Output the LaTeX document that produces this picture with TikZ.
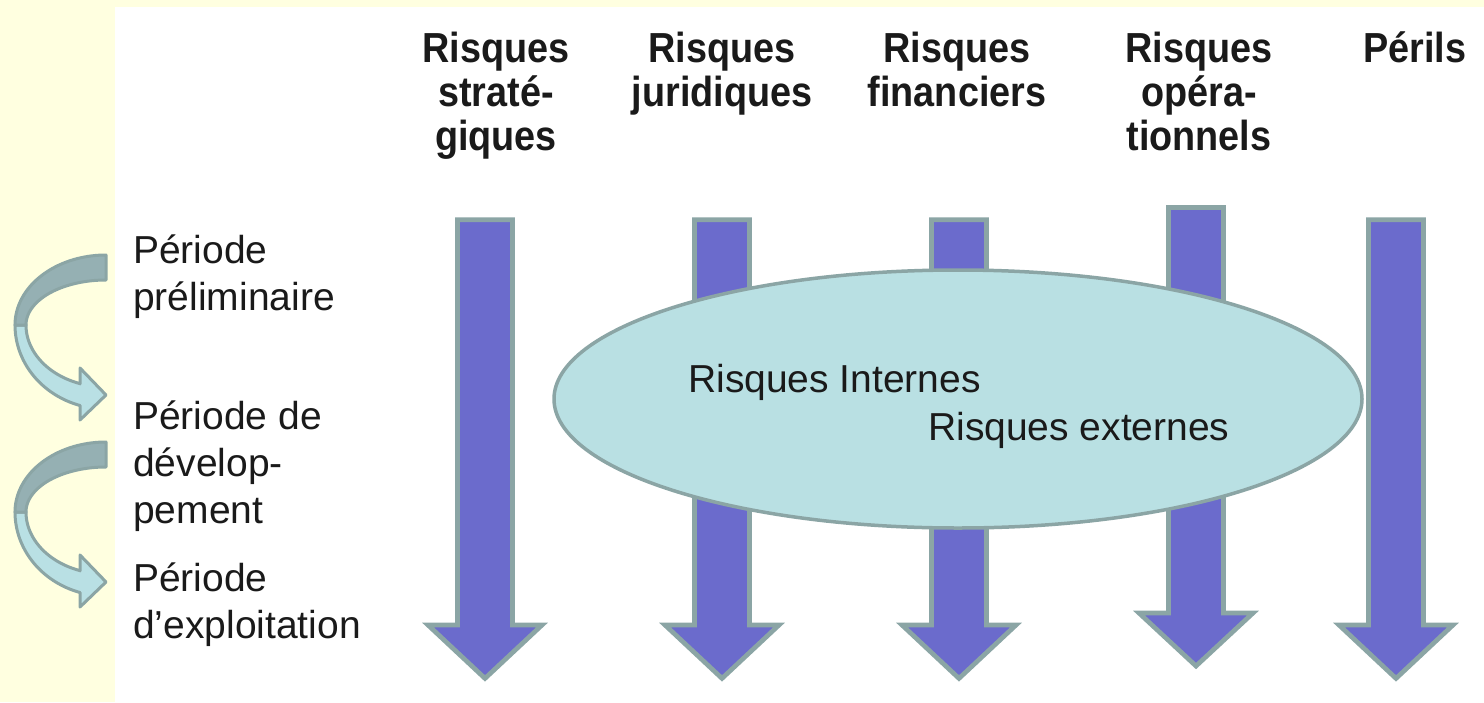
\documentclass[tikz,border=0pt]{standalone}
\usepackage{fontspec}
\setmainfont{Liberation Sans}
\newfontfamily\hdrfont{Liberation Sans}[FakeStretch=0.9]
\usetikzlibrary{shapes.geometric}
\definecolor{bgyellow}{RGB}{255,255,224}
\definecolor{arrowfill}{RGB}{107,107,204}
\definecolor{edgegrey}{RGB}{139,165,165}
\definecolor{ellfill}{RGB}{185,224,227}
\definecolor{darkband}{RGB}{149,176,179}
\definecolor{lightband}{RGB}{185,224,228}
\definecolor{txt}{RGB}{26,26,26}
\tikzset{
  downarrow/.style={fill=arrowfill, draw=edgegrey, line width=4.7pt, miter limit=10},
  frontband/.style={fill=lightband, draw=edgegrey, line width=3pt, line join=round},
  backband/.style={fill=darkband, draw=edgegrey, line width=3pt, line join=round},
  hdr/.style={anchor=base, align=center, inner sep=0pt, text=txt,
    font=\hdrfont\bfseries\fontsize{42}{44}\selectfont},
  lbl/.style={anchor=base west, align=left, inner sep=0pt, text=txt,
    font=\fontsize{39}{47}\selectfont},
}
% cx, top, wing y, tip y
\newcommand\downArrow[4]{%
  \draw[downarrow] (#1-27.5,#2) -- (#1+27.5,#2) -- (#1+27.5,#3) -- (#1+57,#3)
    -- (#1,#4) -- (#1-57,#3) -- (#1-27.5,#3) -- cycle;}
% vertical offset
\newcommand\turnArrow[1]{%
  \begin{scope}[shift={(0,#1)}]
    \filldraw[frontband] plot[domain=180:106.6,samples=40] ({106+91*cos(\x)},{325+84*sin(\x)})
      -- (80,420) -- (106,395) -- (80,368) -- (80,384)
      -- plot[domain=109:180,samples=40] ({106+80*cos(\x)},{325+62*sin(\x)}) -- cycle;
    \filldraw[backband] plot[domain=270:180,samples=40] ({106+91*cos(\x)},{325+70*sin(\x)})
      -- plot[domain=180:270,samples=40] ({106+80*cos(\x)},{325+45*sin(\x)}) -- cycle;
  \end{scope}}
\begin{document}
\begin{tikzpicture}[x=1pt,y=-1pt]
\useasboundingbox (0,0) rectangle (1484,702);
\fill[bgyellow] (0,0) rectangle (1484,702);
\fill[white] (115,7) rectangle (1484,702);

% headers (anchor = baseline of last line)
\node[hdr] (h1) at (496,150) {Risques\\straté-\\giques};
\node[hdr] (h2) at (722,106) {Risques\\juridiques};
\node[hdr] (h3) at (957,106) {Risques\\financiers};
\node[hdr] (h4) at (1199,150) {Risques\\opéra-\\tionnels};
\node[hdr] (h5) at (1415,62) {Périls};

% down arrows
\downArrow{485}{219.7}{625}{678.4}
\downArrow{722}{219.7}{625}{678.4}
\downArrow{959}{219.7}{625}{678.4}
\downArrow{1196}{207.4}{613}{666}
\downArrow{1396}{219.7}{625}{678.4}

% ellipse
\node[ellipse, draw=edgegrey, fill=ellfill, line width=3.5pt, minimum width=808pt,
  minimum height=258pt, inner sep=0pt] (ell) at (958,399) {};
\node[lbl] (ri) at (688,392) {Risques Internes};
\node[lbl] (re) at (928,440) {Risques externes};

% periods
\turnArrow{0}
\turnArrow{187}
\node[lbl] (p1) at (133,310) {Période\\préliminaire};
\node[lbl] (p2) at (133,523) {Période de\\dévelop-\\pement};
\node[lbl] (p3) at (133,638) {Période\\d’exploitation};
\end{tikzpicture}
\end{document}
